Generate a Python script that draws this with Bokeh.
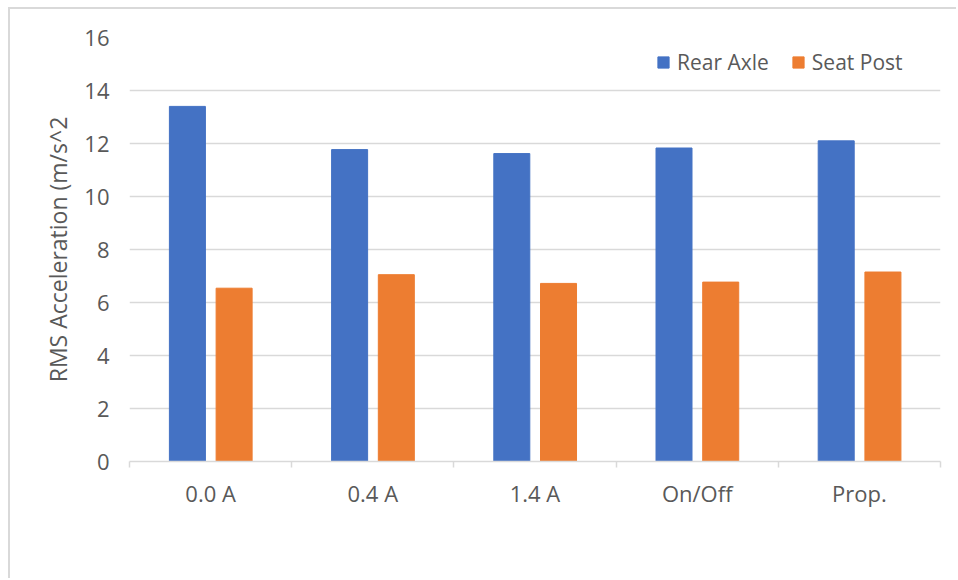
from bokeh.plotting import figure
from bokeh.models import ColumnDataSource, FixedTicker, Legend, LegendItem, InlineStyleSheet
from bokeh.transform import dodge
from bokeh.embed import file_html
from bokeh.resources import INLINE

categories = ["0.0 A", "0.4 A", "1.4 A", "On/Off", "Prop."]
rear_axle = [13.4, 11.77, 11.62, 11.83, 12.1]
seat_post = [6.54, 7.05, 6.72, 6.77, 7.15]
y_ticks = [0, 2, 4, 6, 8, 10, 12, 14, 16]

BLUE = "#4472C4"
ORANGE = "#ED7D31"
TEXT = "#595959"
GRID = "#D9D9D9"
FONT = "Open Sans"

xpos = [i + 0.5 for i in range(len(categories))]
src = ColumnDataSource(dict(x=xpos, rear=rear_axle, seat=seat_post, cat=categories))

p = figure(width=948, height=571, x_range=(0, len(categories)), y_range=(0, 16),
           output_backend="svg", toolbar_location=None,
           min_border_left=119, min_border_right=18, min_border_top=28, min_border_bottom=119)
p.stylesheets = [InlineStyleSheet(css=":host { margin-left: 8px; margin-top: 7px; border-left: 2px solid #D9D9D9; border-top: 2px solid #D9D9D9; }")]
p.outline_line_color = None
p.background_fill_color = "white"
p.border_fill_color = "white"

r1 = p.vbar(x=dodge("x", -0.143, range=p.x_range), top="rear", width=0.222, source=src,
            fill_color=BLUE, line_color=BLUE)
r2 = p.vbar(x=dodge("x", 0.145, range=p.x_range), top="seat", width=0.222, source=src,
            fill_color=ORANGE, line_color=ORANGE)

# x axis
xa = p.xaxis[0]
xa.ticker = FixedTicker(ticks=xpos, minor_ticks=list(range(len(categories) + 1)))
xa.major_label_overrides = {x: c for x, c in zip(xpos, categories)}
xa.major_tick_line_color = None
xa.major_tick_out = 0
xa.major_tick_in = 0
xa.minor_tick_line_color = GRID
xa.minor_tick_line_width = 1.5
xa.minor_tick_out = 6
xa.minor_tick_in = 0
xa.axis_line_color = GRID
xa.axis_line_width = 1.5
xa.major_label_text_font = FONT
xa.major_label_text_font_size = "22px"
xa.major_label_text_color = TEXT
xa.major_label_standoff = 10

# y axis
ya = p.yaxis[0]
ya.ticker = FixedTicker(ticks=y_ticks)
ya.axis_line_color = None
ya.major_tick_line_color = None
ya.minor_tick_line_color = None
ya.major_tick_out = 0
ya.major_tick_in = 0
ya.major_label_text_font = FONT
ya.major_label_text_font_size = "22px"
ya.major_label_text_color = TEXT
ya.major_label_standoff = 20
ya.axis_label = "RMS Acceleration (m/s^2"
ya.axis_label_text_font = FONT
ya.axis_label_text_font_size = "23px"
ya.axis_label_text_font_style = "normal"
ya.axis_label_text_color = TEXT
ya.axis_label_standoff = 7

p.xgrid.grid_line_color = None
p.ygrid.grid_line_color = GRID
p.ygrid.grid_line_width = 1.5

legend = Legend(items=[LegendItem(label="Rear Axle", renderers=[r1]),
                       LegendItem(label="Seat Post", renderers=[r2])],
                orientation="horizontal", location=(527, 385),
                glyph_width=14, glyph_height=14, label_standoff=7, spacing=22,
                padding=10, margin=0,
                label_text_font=FONT, label_text_font_size="21px", label_text_color=TEXT,
                border_line_color=None, background_fill_alpha=0)
p.add_layout(legend)

open("out.html", "w").write(file_html(p, INLINE))
